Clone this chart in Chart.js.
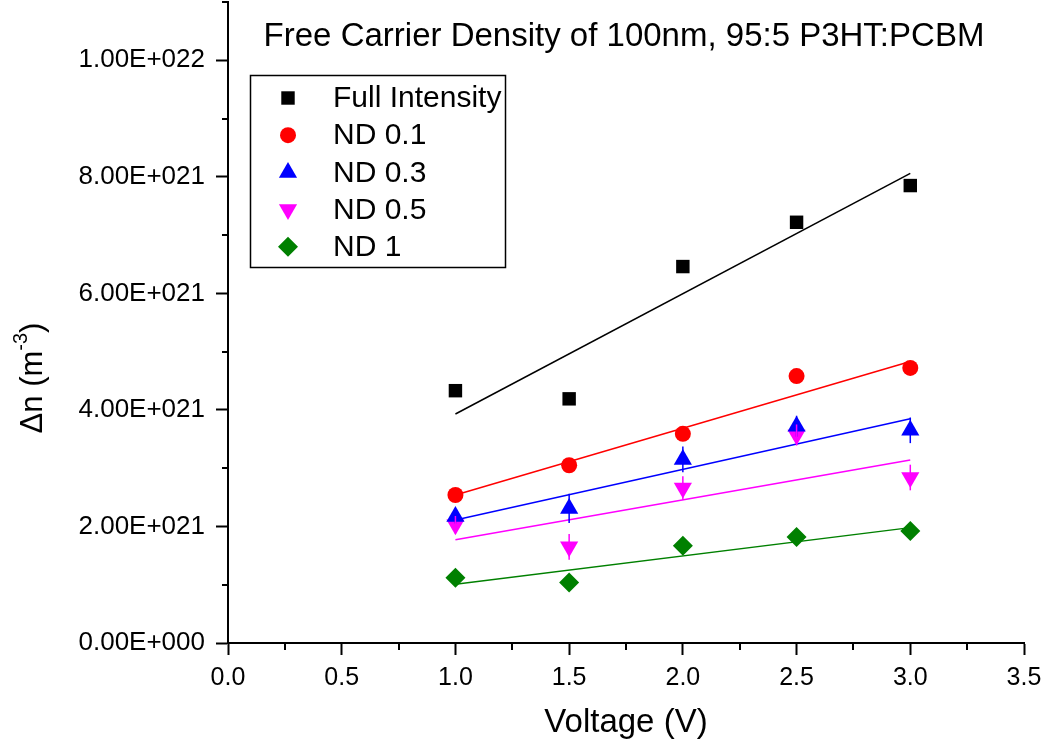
<!DOCTYPE html>
<html>
<head>
<meta charset="utf-8">
<script src="https://cdn.jsdelivr.net/npm/chart.js@4/dist/chart.umd.min.js"></script>
<style>
  html, body { margin: 0; padding: 0; background: #fff; }
  #wrap { width: 1051px; height: 751px; }
</style>
</head>
<body>
<div id="wrap"><canvas id="chart"></canvas></div>
<script>
// voltages (V)
const voltages = [1.0, 1.5, 2.0, 2.5, 3.0];

// free carrier density, in units of 1E21 m^-3
const fullIntensity = [4.33, 4.19, 6.46, 7.22, 7.85];
const nd01 = [2.54, 3.05, 3.59, 4.58, 4.72];
const nd03 = [2.17, 2.31, 3.15, 3.72, 3.65];
const nd05 = [2.03, 1.65, 2.66, 3.57, 2.84];
const nd1 = [1.12, 1.04, 1.67, 1.82, 1.92];

// small error bars seen on the triangles
const nd03Err = [0.12, 0.25, 0.22, 0.18, 0.22];
const nd05Err = [0.15, 0.22, 0.2, 0.18, 0.22];

// linear fit end points at 1.0 V and 3.0 V
const fitX = [1.0, 3.0];
const fullFit = [3.93, 8.06];
const nd01Fit = [2.54, 4.83];
const nd03Fit = [2.11, 3.85];
const nd05Fit = [1.77, 3.14];
const nd1Fit = [1.01, 1.98];

const seriesNames = ['Full Intensity', 'ND 0.1', 'ND 0.3', 'ND 0.5', 'ND 1'];
const titleText = 'Free Carrier Density of 100nm, 95:5 P3HT:PCBM';

// the y axis runs in units of 1E21, labels are scaled back
const UNIT = 1e21;
const FONT = '"Liberation Sans", Arial, sans-serif';

const toPoints = (xs, ys) => xs.map((x, i) => ({ x: x, y: ys[i] }));

function markerSet(label, ys, color, style, radius, rotation, errs) {
    return {
        label: label,
        data: toPoints(voltages, ys),
        errs: errs || null,
        backgroundColor: color,
        borderColor: color,
        borderWidth: 0,
        pointStyle: style,
        pointRadius: radius,
        pointHoverRadius: radius,
        pointRotation: rotation,
        showLine: false,
        order: 1
    };
}

function fitSet(ys, color) {
    return {
        label: '',
        fit: true,
        data: toPoints(fitX, ys),
        borderColor: color,
        borderWidth: 1.5,
        pointRadius: 0,
        showLine: true,
        fill: false,
        order: 2
    };
}

function fmtExp(v) {
    const parts = Number(v).toExponential(2).split('e');
    const exp = parseInt(parts[1], 10);
    const sign = exp < 0 ? '-' : '+';
    return parts[0].toUpperCase() + 'E' + sign + String(Math.abs(exp)).padStart(3, '0');
}

// minor ticks, title, legend, error bars and y title
const extras = {
    id: 'extras',
    afterDatasetsDraw(chart) {
        const ctx = chart.ctx;
        const xs = chart.scales.x, ys = chart.scales.y;
        ctx.save();
        ctx.lineWidth = 1.5;
        chart.data.datasets.forEach(ds => {
            if (!ds.errs) return;
            ctx.strokeStyle = ds.borderColor;
            ds.data.forEach((p, i) => {
                const px = xs.getPixelForValue(p.x);
                ctx.beginPath();
                ctx.moveTo(px, ys.getPixelForValue(p.y - ds.errs[i]));
                ctx.lineTo(px, ys.getPixelForValue(p.y + ds.errs[i]));
                ctx.stroke();
            });
        });
        ctx.restore();
    },
    afterDraw(chart) {
        const ctx = chart.ctx;
        const xs = chart.scales.x, ys = chart.scales.y;
        const area = chart.chartArea;
        ctx.save();

        // minor ticks
        ctx.strokeStyle = '#000';
        ctx.lineWidth = 2;
        for (let v = 0.25; v < 3.5; v += 0.5) {
            const px = Math.round(xs.getPixelForValue(v));
            ctx.beginPath();
            ctx.moveTo(px, area.bottom);
            ctx.lineTo(px, area.bottom + 7);
            ctx.stroke();
        }
        for (let k = 1; k <= 11; k += 2) {
            const py = Math.round(ys.getPixelForValue(k));
            ctx.beginPath();
            ctx.moveTo(area.left, py);
            ctx.lineTo(area.left - 6, py);
            ctx.stroke();
        }

        // title inside plot
        ctx.fillStyle = '#000';
        ctx.font = '33px ' + FONT;
        ctx.textAlign = 'center';
        ctx.textBaseline = 'alphabetic';
        ctx.fillText(titleText, 624, 46);

        // legend box
        ctx.lineWidth = 1.5;
        ctx.strokeStyle = '#000';
        ctx.strokeRect(250.5, 75.5, 255, 192);
        ctx.font = '30px ' + FONT;
        ctx.textAlign = 'left';
        ctx.textBaseline = 'middle';
        const markers = chart.data.datasets.filter(d => !d.fit);
        markers.forEach((ds, i) => {
            const y = 98 + i * 37.2;
            ctx.fillStyle = ds.backgroundColor;
            ctx.strokeStyle = ds.borderColor;
            Chart.helpers.drawPoint(ctx, {
                pointStyle: ds.pointStyle,
                radius: ds.pointRadius,
                rotation: ds.pointRotation,
                borderWidth: 0
            }, 288, y);
            ctx.fillStyle = '#000';
            ctx.fillText(ds.label, 333, y + 1);
        });

        // y axis title with superscript
        ctx.translate(33, 378);
        ctx.rotate(-Math.PI / 2);
        ctx.textBaseline = 'middle';
        ctx.textAlign = 'left';
        const big = '31px ' + FONT, small = '20px ' + FONT;
        ctx.font = big;
        const w1 = ctx.measureText('\u0394n (m').width;
        const w3 = ctx.measureText(')').width;
        ctx.font = small;
        const w2 = ctx.measureText('-3').width;
        const x0 = -(w1 + w2 + w3) / 2;
        ctx.font = big;
        ctx.fillText('\u0394n (m', x0, 0);
        ctx.font = small;
        ctx.fillText('-3', x0 + w1, -12);
        ctx.font = big;
        ctx.fillText(')', x0 + w1 + w2, 0);
        ctx.restore();
    }
};

new Chart(document.getElementById('chart'), {
    type: 'scatter',
    data: {
        datasets: [
            markerSet(seriesNames[0], fullIntensity, '#000000', 'rect', 9.5, 0),
            markerSet(seriesNames[1], nd01, '#ff0000', 'circle', 8, 0),
            markerSet(seriesNames[2], nd03, '#0000ff', 'triangle', 10.5, 0, nd03Err),
            markerSet(seriesNames[3], nd05, '#ff00ff', 'triangle', 10.5, 180, nd05Err),
            markerSet(seriesNames[4], nd1, '#008000', 'rectRot', 10, 0),
            fitSet(fullFit, '#000000'),
            fitSet(nd01Fit, '#ff0000'),
            fitSet(nd03Fit, '#0000ff'),
            fitSet(nd05Fit, '#ff00ff'),
            fitSet(nd1Fit, '#008000')
        ]
    },
    options: {
        responsive: true,
        maintainAspectRatio: false,
        animation: false,
        layout: { autoPadding: false, padding: { top: 2, right: 27, left: 0, bottom: 0 } },
        plugins: {
            legend: { display: false },
            tooltip: { enabled: false },
            title: { display: false }
        },
        scales: {
            x: {
                type: 'linear',
                min: 0,
                max: 3.5,
                afterFit(scale) { scale.height = 108; },
                border: { display: true, color: '#000', width: 2 },
                grid: { drawOnChartArea: false, drawTicks: true, tickLength: 12, tickWidth: 2, tickColor: '#000' },
                ticks: {
                    stepSize: 0.5,
                    padding: 8,
                    color: '#000',
                    font: { family: FONT, size: 25 },
                    callback: v => Number(v).toFixed(1)
                },
                title: {
                    display: true,
                    text: 'Voltage (V)',
                    color: '#000',
                    font: { family: FONT, size: 33 },
                    padding: { top: 0, bottom: 8 }
                }
            },
            y: {
                type: 'linear',
                min: 0,
                max: 11,
                afterFit(scale) {
                    scale.width = 228;
                    scale.paddingTop = 0;
                    scale.paddingBottom = 0;
                },
                border: { display: true, color: '#000', width: 2 },
                grid: { drawOnChartArea: false, drawTicks: true, tickLength: 12, tickWidth: 2, tickColor: '#000' },
                ticks: {
                    stepSize: 2,
                    includeBounds: false,
                    padding: 11,
                    color: '#000',
                    font: { family: FONT, size: 26 },
                    callback: v => fmtExp(v * UNIT)
                },
                title: { display: false }
            }
        }
    },
    plugins: [extras]
});
</script>
</body>
</html>
